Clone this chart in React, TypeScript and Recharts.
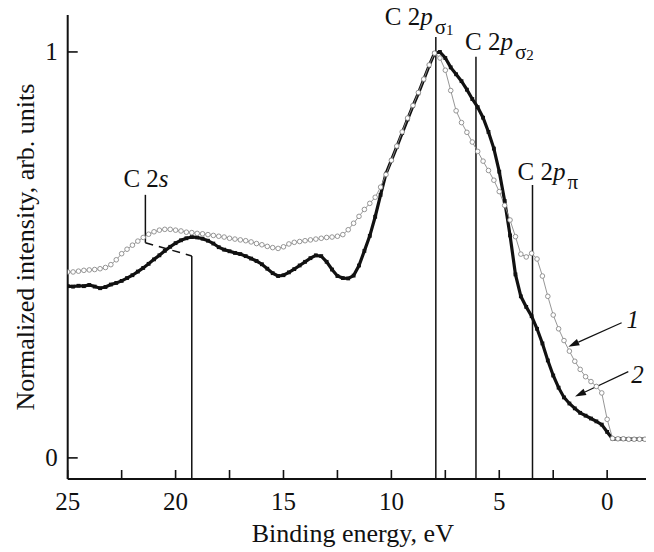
import React from "react";
import { LineChart, Line, XAxis, YAxis, ReferenceLine } from "recharts";

// binding energy grid, eV
const energy = [
  25, 24.75, 24.5, 24.25, 24, 23.75, 23.5, 23.25, 23, 22.75,
  22.5, 22.25, 22, 21.75, 21.5, 21.25, 21, 20.75, 20.5, 20.25,
  20, 19.75, 19.5, 19.25, 19, 18.75, 18.5, 18.25, 18, 17.75,
  17.5, 17.25, 17, 16.75, 16.5, 16.25, 16, 15.75, 15.5, 15.25,
  15, 14.75, 14.5, 14.25, 14, 13.75, 13.5, 13.25, 13, 12.75,
  12.5, 12.25, 12, 11.75, 11.5, 11.25, 11, 10.75, 10.5, 10.25,
  10, 9.75, 9.5, 9.25, 9, 8.75, 8.5, 8.25, 8, 7.75,
  7.5, 7.25, 7, 6.75, 6.5, 6.25, 6, 5.75, 5.5, 5.25,
  5, 4.75, 4.5, 4.25, 4, 3.75, 3.5, 3.25, 3, 2.75,
  2.5, 2.25, 2, 1.75, 1.5, 1.25, 1, 0.75, 0.5, 0.25,
  0, -0.25, -0.5, -0.75, -1, -1.25, -1.5, -1.75,
];

// curve 1 (open circles)
const curve1 = [
  0.458, 0.458, 0.46, 0.462, 0.463, 0.464, 0.466, 0.469, 0.476, 0.488,
  0.503, 0.514, 0.524, 0.534, 0.543, 0.551, 0.557, 0.561, 0.563, 0.563,
  0.561, 0.559, 0.556, 0.555, 0.553, 0.552, 0.55, 0.548, 0.546, 0.544,
  0.541, 0.539, 0.537, 0.535, 0.532, 0.528, 0.525, 0.521, 0.518, 0.516,
  0.52, 0.527, 0.531, 0.533, 0.535, 0.537, 0.539, 0.541, 0.543, 0.544,
  0.546, 0.55, 0.562, 0.578, 0.595, 0.612, 0.627, 0.642, 0.667, 0.698,
  0.733, 0.768, 0.803, 0.837, 0.868, 0.9, 0.933, 0.968, 0.997, 0.985,
  0.955, 0.905, 0.855, 0.826, 0.802, 0.778, 0.755, 0.731, 0.708, 0.684,
  0.656, 0.622, 0.586, 0.545, 0.502, 0.495, 0.504, 0.49, 0.448, 0.398,
  0.352, 0.318, 0.289, 0.263, 0.238, 0.218, 0.2, 0.188, 0.176, 0.16,
  0.095, 0.048, 0.047, 0.047, 0.046, 0.046, 0.046, 0.046,
];

// curve 2 (filled dots)
const curve2 = [
  0.423, 0.422, 0.424, 0.423, 0.426, 0.422, 0.418, 0.421, 0.427, 0.431,
  0.436, 0.443, 0.45, 0.459, 0.468, 0.478, 0.489, 0.499, 0.51, 0.52,
  0.529, 0.536, 0.541, 0.544, 0.543, 0.54, 0.535, 0.528, 0.519, 0.513,
  0.509, 0.505, 0.502, 0.497, 0.491, 0.485, 0.477, 0.466, 0.455, 0.448,
  0.45, 0.457, 0.465, 0.474, 0.483, 0.492, 0.499, 0.497, 0.483, 0.464,
  0.448, 0.443, 0.442, 0.449, 0.474, 0.51, 0.547, 0.594, 0.648, 0.7,
  0.733, 0.766, 0.8, 0.834, 0.867, 0.898, 0.932, 0.966, 0.997, 1.0,
  0.985, 0.962, 0.945, 0.928, 0.907, 0.884, 0.864, 0.838, 0.803, 0.762,
  0.705, 0.633, 0.548, 0.452, 0.398, 0.372, 0.349, 0.318, 0.282, 0.24,
  0.203, 0.173, 0.149, 0.134, 0.122, 0.111, 0.104, 0.097, 0.09, 0.082,
  0.064, 0.047, 0.047, 0.047, 0.046, 0.046, 0.046, 0.046,
];

const xTicks = [25, 22.5, 20, 17.5, 15, 12.5, 10, 7.5, 5, 2.5, 0];
const yTicks = [0, 1];

// peak markers: energy, top of line, subscript
const peakE = [7.94, 6.08, 3.46];
const peakTop = [1.037, 0.988, 0.672];
const peakSym = ["σ", "σ", "π"];
const peakIdx = ["1", "2", ""];
const peakOffset = [[-51, -12], [-11, -7], [-15, -5]];

// C 2s bracket
const s2Left = 21.4;
const s2Right = 19.25;
const s2Top = 0.648;
const s2Mid = 0.53;
const s2End = 0.4975;

// arrows to curves: [fromE, fromY, toE, toY]
const arrows = [
  [-0.67, 0.333, 1.8, 0.274],
  [-0.98, 0.2126, 1.49, 0.151],
];
const arrowNames = ["1", "2"];

const yMin = -0.052;
const font = "Liberation Serif, Times New Roman, DejaVu Serif, serif";
const ink = "#111";
const txt = { fontFamily: font };

const rows = energy.map((e, i) => ({ e, s1: curve1[i], s2: curve2[i] }));

function XTick({ x, y, payload }: any) {
  const v = payload.value;
  return (
    <g>
      <line x1={x} y1={y} x2={x} y2={y - 9} stroke={ink} strokeWidth={1.6} />
      {v % 5 === 0 && (
        <text x={x} y={y + 31} textAnchor="middle" style={txt} fontSize={25} fill={ink}>
          {v}
        </text>
      )}
    </g>
  );
}

function YTick({ x, y, payload }: any) {
  return (
    <g>
      <line x1={x} y1={y} x2={x + 10} y2={y} stroke={ink} strokeWidth={1.6} />
      <text x={x - 10} y={y + 8} textAnchor="end" style={txt} fontSize={25} fill={ink}>
        {payload.value}
      </text>
    </g>
  );
}

function YTitle({ viewBox }: any) {
  const cx = viewBox.x + 25;
  const cy = viewBox.y + viewBox.height / 2;
  return (
    <text
      x={cx}
      y={cy}
      transform={`rotate(-90 ${cx} ${cy})`}
      textAnchor="middle"
      dominantBaseline="central"
      style={txt}
      fontSize={26}
      fill={ink}
    >
      Normalized intensity, arb. units
    </text>
  );
}

function XTitle({ viewBox }: any) {
  const cx = viewBox.x + viewBox.width / 2 - 4;
  return (
    <text x={cx} y={viewBox.y + 63} textAnchor="middle" style={txt} fontSize={26} fill={ink}>
      Binding energy, eV
    </text>
  );
}

function peakShape(i: number) {
  return (p: any) => (
    <g>
      <line x1={p.x1} y1={p.y1} x2={p.x2} y2={p.y2} stroke={ink} strokeWidth={1.5} />
      <text
        x={Math.min(p.x1, p.x2) + peakOffset[i][0]}
        y={Math.min(p.y1, p.y2) + peakOffset[i][1]}
        style={txt}
        fontSize={25}
        fill={ink}
      >
        C 2<tspan fontStyle="italic">p</tspan>
        <tspan fontSize={21} dx={2} dy={9}>{peakSym[i]}</tspan>
        {peakIdx[i] && <tspan fontSize={15} dy={1}>{peakIdx[i]}</tspan>}
      </text>
    </g>
  );
}

function s2Shape(p: any) {
  return (
    <g>
      <line x1={p.x1} y1={p.y1} x2={p.x2} y2={p.y2} stroke={ink} strokeWidth={1.5} />
      <text x={p.x1 - 22} y={Math.min(p.y1, p.y2) - 8} style={txt} fontSize={25} fill={ink}>
        C 2<tspan fontStyle="italic">s</tspan>
      </text>
    </g>
  );
}

function arrowShape(i: number) {
  return (p: any) => {
    const dx = p.x2 - p.x1;
    const dy = p.y2 - p.y1;
    const len = Math.sqrt(dx * dx + dy * dy);
    const ux = dx / len;
    const uy = dy / len;
    const bx = p.x2 - ux * 11;
    const by = p.y2 - uy * 11;
    const head = `${p.x2},${p.y2} ${bx - uy * 3.5},${by + ux * 3.5} ${bx + uy * 3.5},${by - ux * 3.5}`;
    return (
      <g>
        <line x1={p.x1} y1={p.y1} x2={bx} y2={by} stroke={ink} strokeWidth={1.2} />
        <polygon points={head} fill={ink} />
        <text
          x={p.x1 + (i === 0 ? 5 : 3)}
          y={p.y1 + (i === 0 ? 5 : 11)}
          style={txt}
          fontStyle="italic"
          fontSize={25}
          fill={ink}
        >
          {arrowNames[i]}
        </text>
      </g>
    );
  };
}

function SquareDot(p: any) {
  if (p.cx == null || p.cy == null) return <g key={p.key} />;
  return <rect key={p.key} x={p.cx - 1.9} y={p.cy - 1.9} width={3.8} height={3.8} fill={ink} />;
}

export default function App() {
  return (
    <div style={{ position: "absolute", left: 0, top: 0, width: 654, height: 552, background: "#fff" }}>
      <LineChart width={654} height={552} data={rows} margin={{ top: 15, right: 8, bottom: 0, left: 0 }}>
        <XAxis
          dataKey="e"
          type="number"
          domain={[-1.8, 25]}
          reversed
          allowDataOverflow
          ticks={xTicks}
          interval={0}
          height={73}
          tickSize={0}
          tickMargin={0}
          tickLine={false}
          tick={<XTick />}
          axisLine={{ stroke: ink, strokeWidth: 2 }}
          label={<XTitle />}
        />
        <YAxis
          type="number"
          domain={[yMin, 1.091]}
          allowDataOverflow
          ticks={yTicks}
          width={67.7}
          tickSize={0}
          tickMargin={0}
          tickLine={false}
          tick={<YTick />}
          axisLine={{ stroke: ink, strokeWidth: 2 }}
          label={<YTitle />}
        />
        {peakE.map((e, i) => (
          <ReferenceLine
            key={"p" + i}
            segment={[{ x: e, y: yMin }, { x: e, y: peakTop[i] }]}
            shape={peakShape(i)}
          />
        ))}
        <ReferenceLine segment={[{ x: s2Right, y: yMin }, { x: s2Right, y: s2End }]} stroke={ink} strokeWidth={1.5} />
        <ReferenceLine segment={[{ x: s2Left, y: s2Mid }, { x: s2Left, y: s2Top }]} shape={s2Shape} />
        <ReferenceLine
          segment={[{ x: s2Left, y: s2Mid }, { x: s2Right, y: s2End }]}
          stroke={ink}
          strokeWidth={1.5}
          strokeDasharray="8 6"
        />
        <Line
          dataKey="s2"
          type="linear"
          stroke={ink}
          strokeWidth={3.2}
          dot={<SquareDot />}
          activeDot={false}
          isAnimationActive={false}
        />
        <Line
          dataKey="s1"
          type="linear"
          stroke="#8a8a8a"
          strokeWidth={0.9}
          dot={{ r: 2.3, fill: "#fff", stroke: "#8a8a8a", strokeWidth: 0.9 }}
          activeDot={false}
          isAnimationActive={false}
        />
        {arrows.map((a, i) => (
          <ReferenceLine
            key={"a" + i}
            segment={[{ x: a[0], y: a[1] }, { x: a[2], y: a[3] }]}
            shape={arrowShape(i)}
          />
        ))}
      </LineChart>
    </div>
  );
}
